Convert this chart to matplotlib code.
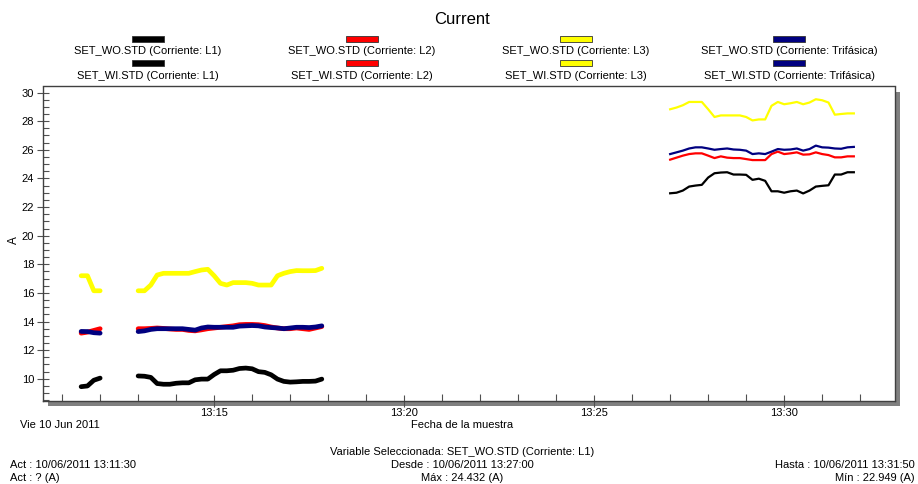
import matplotlib
matplotlib.use("Agg")
import matplotlib.pyplot as plt
import matplotlib.dates as mdates
from matplotlib.patches import Rectangle
from matplotlib.ticker import MultipleLocator
import pandas as pd

W, H = 918, 484

# series (10 s samples)
wi_start_a = "2011-06-10 13:11:30"
wi_start_b = "2011-06-10 13:13:00"
wo_start = "2011-06-10 13:27:00"

wi_l1_a = [9.45, 9.5, 9.9, 10.05]
wi_l2_a = [13.19, 13.26, 13.38, 13.5]
wi_l3_a = [17.2, 17.2, 16.15, 16.15]
wi_tri_a = [13.31, 13.3, 13.22, 13.19]

wi_l1_b = [10.2, 10.18, 10.1, 9.67, 9.62, 9.62, 9.69, 9.72, 9.72, 9.93,
           9.98, 9.98, 10.3, 10.56, 10.56, 10.6, 10.72, 10.75, 10.7, 10.5,
           10.45, 10.28, 9.98, 9.82, 9.77, 9.79, 9.82, 9.82, 9.84, 9.98]
wi_l2_b = [13.5, 13.5, 13.52, 13.55, 13.52, 13.48, 13.45, 13.45, 13.38, 13.35,
           13.42, 13.5, 13.55, 13.6, 13.65, 13.7, 13.78, 13.8, 13.8, 13.78,
           13.72, 13.62, 13.55, 13.5, 13.5, 13.55, 13.5, 13.45, 13.55, 13.65]
wi_l3_b = [16.15, 16.15, 16.55, 17.25, 17.37, 17.37, 17.37, 17.37, 17.37, 17.49,
           17.6, 17.65, 17.2, 16.67, 16.55, 16.72, 16.72, 16.72, 16.67, 16.55,
           16.55, 16.55, 17.2, 17.37, 17.49, 17.56, 17.55, 17.55, 17.56, 17.72]
wi_tri_b = [13.3, 13.35, 13.45, 13.5, 13.5, 13.5, 13.5, 13.5, 13.45, 13.4,
            13.55, 13.62, 13.6, 13.6, 13.6, 13.6, 13.68, 13.7, 13.72, 13.7,
            13.62, 13.58, 13.55, 13.5, 13.55, 13.6, 13.6, 13.58, 13.62, 13.7]

wo_l1 = [22.96, 23.0, 23.15, 23.43, 23.5, 23.55, 24.06, 24.36, 24.41, 24.43,
         24.27, 24.27, 24.25, 23.9, 23.98, 23.83, 23.1, 23.1, 23.0, 23.1,
         23.15, 22.95, 23.15, 23.43, 23.48, 23.52, 24.27, 24.27, 24.43, 24.43]
wo_l2 = [25.31, 25.45, 25.59, 25.7, 25.75, 25.75, 25.59, 25.42, 25.54, 25.45,
         25.42, 25.42, 25.35, 25.28, 25.28, 25.28, 25.7, 25.87, 25.7, 25.75,
         25.82, 25.66, 25.68, 25.82, 25.7, 25.63, 25.47, 25.47, 25.54, 25.54]
wo_l3 = [28.83, 28.95, 29.11, 29.34, 29.34, 29.34, 28.83, 28.29, 28.4, 28.4,
         28.4, 28.4, 28.29, 28.05, 28.12, 28.12, 29.07, 29.34, 29.18, 29.25,
         29.34, 29.18, 29.3, 29.53, 29.46, 29.3, 28.45, 28.5, 28.54, 28.54]
wo_tri = [25.7, 25.82, 25.94, 26.09, 26.17, 26.17, 26.09, 26.0, 26.05, 26.09,
          26.02, 26.0, 25.94, 25.7, 25.75, 25.7, 25.87, 26.05, 26.0, 26.02,
          26.09, 25.94, 26.05, 26.29, 26.17, 26.15, 26.09, 26.07, 26.17, 26.2]

colors = ["#000000", "#ff0000", "#ffff00", "#000080"]
phases = ["L1", "L2", "L3", "Trifásica"]


def times(start, vals):
    return pd.date_range(start, periods=len(vals), freq="10s")


def px(x, y):
    # pixel (from top-left) -> figure fraction
    return x / W, 1 - y / H


plt.rcParams["font.family"] = ["Liberation Sans Narrow", "Liberation Sans", "DejaVu Sans"]

fig = plt.figure(figsize=(W / 100, H / 100), dpi=100)

# frame shadow
x0, y0 = px(48, 406)
fig.patches.append(Rectangle((x0, y0), 852 / W, 314 / H, transform=fig.transFigure,
                             facecolor="#808080", edgecolor="none", zorder=0))

l, b = px(42.5, 401)
ax = fig.add_axes([l, b, 852.5 / W, 314.5 / H], zorder=1)
ax.set_facecolor("white")

wi_a = [wi_l1_a, wi_l2_a, wi_l3_a, wi_tri_a]
wi_b = [wi_l1_b, wi_l2_b, wi_l3_b, wi_tri_b]
wo = [wo_l1, wo_l2, wo_l3, wo_tri]
for i in range(4):
    ax.plot(times(wi_start_a, wi_a[i]), wi_a[i], color=colors[i], lw=3.4,
            solid_capstyle="round", solid_joinstyle="round")
    ax.plot(times(wi_start_b, wi_b[i]), wi_b[i], color=colors[i], lw=3.4,
            solid_capstyle="round", solid_joinstyle="round")
    ax.plot(times(wo_start, wo[i]), wo[i], color=colors[i], lw=1.6)

ax.set_xlim(pd.Timestamp("2011-06-10 13:10:29"), pd.Timestamp("2011-06-10 13:32:55"))
ax.set_ylim(8.45, 30.42)

ax.xaxis.set_major_locator(mdates.MinuteLocator(byminute=range(0, 60, 5)))
ax.xaxis.set_minor_locator(mdates.MinuteLocator())
ax.xaxis.set_major_formatter(mdates.DateFormatter("%H:%M"))
ax.yaxis.set_major_locator(MultipleLocator(2))
ax.yaxis.set_minor_locator(MultipleLocator(0.5))

ax.tick_params(axis="x", which="major", direction="inout", length=8, width=0.8,
               color="#505050", labelsize=8, pad=1)
ax.tick_params(axis="x", which="minor", direction="in", length=5, width=0.8, color="#505050")
ax.tick_params(axis="y", which="major", direction="inout", length=8, width=0.8,
               color="#505050", labelsize=8, pad=2)
ax.tick_params(axis="y", which="minor", direction="in", length=4, width=0.8, color="#505050")
for s in ax.spines.values():
    s.set_color("#404040")
    s.set_linewidth(1)

fig.text(*px(14, 240), "A", rotation=90, ha="center", va="center", fontsize=8.5)

# title and legend
fig.text(*px(462, 19), "Current", ha="center", va="center", fontsize=12)
col_x = [148, 362, 576, 789]
for i in range(4):
    for row, (tag, ry, ty) in enumerate([("WO", 38.5, 51.5), ("WI", 62.5, 76)]):
        rx, rb = px(col_x[i] - 16, ry + 3)
        fig.patches.append(Rectangle((rx, rb), 32 / W, 6 / H, transform=fig.transFigure,
                                     facecolor=colors[i], edgecolor="#333333", lw=0.6))
        fig.text(*px(col_x[i], ty), f"SET_{tag}.STD (Corriente: {phases[i]})",
                 ha="center", va="center", fontsize=8)

# footer texts
fig.text(*px(20, 425), "Vie 10 Jun 2011", ha="left", va="center", fontsize=8)
fig.text(*px(462, 425), "Fecha de la muestra", ha="center", va="center", fontsize=8)
fig.text(*px(462, 452), "Variable Seleccionada: SET_WO.STD (Corriente: L1)",
         ha="center", va="center", fontsize=8)
fig.text(*px(10, 465), "Act : 10/06/2011 13:11:30", ha="left", va="center", fontsize=8)
fig.text(*px(462, 465), "Desde : 10/06/2011 13:27:00", ha="center", va="center", fontsize=8)
fig.text(*px(915, 465), "Hasta : 10/06/2011 13:31:50", ha="right", va="center", fontsize=8)
fig.text(*px(10, 478), "Act : ? (A)", ha="left", va="center", fontsize=8)
fig.text(*px(462, 478), "Máx : 24.432 (A)", ha="center", va="center", fontsize=8)
fig.text(*px(915, 478), "Mín : 22.949 (A)", ha="right", va="center", fontsize=8)

fig.savefig("out.png", dpi=100, facecolor="white")
